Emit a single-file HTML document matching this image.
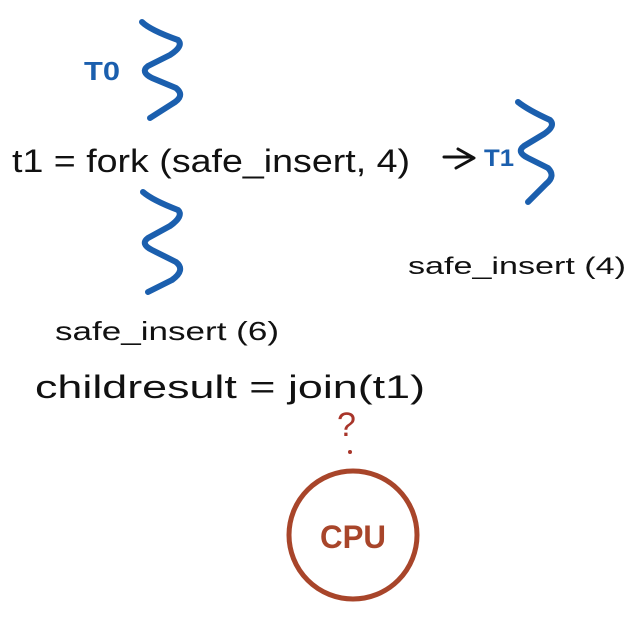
<!DOCTYPE html>
<html><head><meta charset="utf-8"><style>
html,body{margin:0;padding:0;background:#fff;width:630px;height:617px;overflow:hidden}
svg{display:block}
</style></head><body>
<svg width="630" height="617" viewBox="0 0 630 617" xmlns="http://www.w3.org/2000/svg">
<g fill="none" stroke="#1b5fae" stroke-width="6" stroke-linecap="round" stroke-linejoin="round">
<path d="M142,22 Q150,30 178,40 Q184,46 170,55 L148,66 Q140,72 152,78 L176,88 Q186,96 172,104 L150,118"/>
<path d="M143,192 Q152,200 178,210 Q184,216 170,226 L148,238 Q140,244 152,250 L176,262 Q186,270 172,280 L148,292"/>
<path d="M518,102 Q528,110 550,120 Q556,126 544,134 L524,146 Q516,152 528,158 L548,168 Q556,176 546,184 L528,202"/>
</g>
<g font-family="Liberation Sans, sans-serif" fill="#1b5fae" font-weight="bold">
<text x="84" y="80" font-size="26" textLength="36" lengthAdjust="spacingAndGlyphs">T0</text>
<text x="484" y="166" font-size="24" textLength="30" lengthAdjust="spacingAndGlyphs">T1</text>
</g>
<path d="M444,157 L470,157 M458,149 L474,158 L456,168" fill="none" stroke="#111" stroke-width="3" stroke-linecap="round" stroke-linejoin="round"/>
<g font-family="Liberation Sans, sans-serif" fill="#111">
<text x="12" y="172" font-size="32" textLength="398" lengthAdjust="spacingAndGlyphs">t1 = fork (safe_insert, 4)</text>
<text x="408" y="274" font-size="24" textLength="218" lengthAdjust="spacingAndGlyphs">safe_insert (4)</text>
<text x="55" y="340" font-size="26" textLength="224" lengthAdjust="spacingAndGlyphs">safe_insert (6)</text>
<text x="35" y="398" font-size="32" textLength="390" lengthAdjust="spacingAndGlyphs">childresult = join(t1)</text>
</g>
<text x="337" y="436" font-family="Liberation Sans, sans-serif" font-size="34" fill="#a8352a">?</text>
<circle cx="350" cy="452" r="2" fill="#a8352a"/>
<circle cx="353" cy="535" r="64" fill="none" stroke="#a8452a" stroke-width="5"/>
<text x="353" y="548" text-anchor="middle" font-family="Liberation Sans, sans-serif" font-weight="bold" font-size="32" fill="#a8452a" textLength="66" lengthAdjust="spacingAndGlyphs">CPU</text>
</svg>
</body></html>
